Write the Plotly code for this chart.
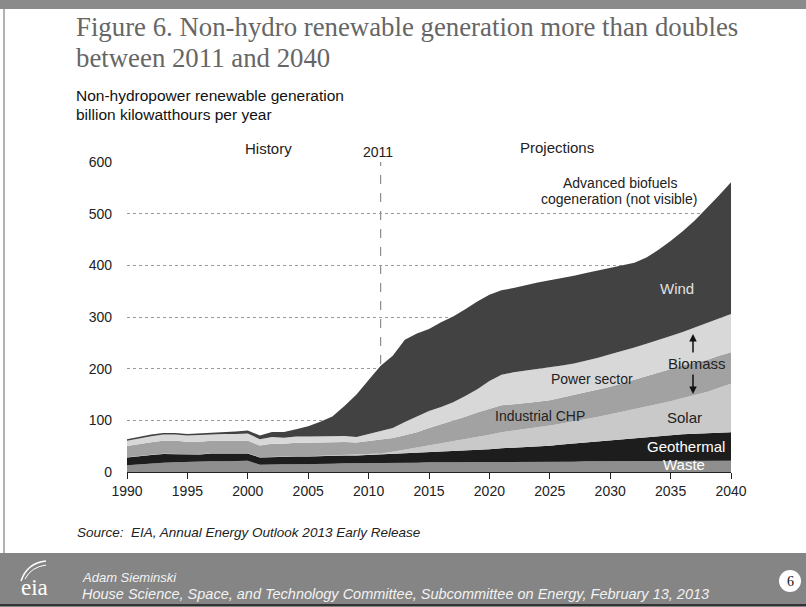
import plotly.graph_objects as go

# ---------------- data (billion kWh per year) ----------------
years = list(range(1990, 2041))

waste = [13, 15, 17, 18, 19, 20, 20, 21, 21, 21, 22, 14, 15, 15, 15, 15, 16, 16, 17, 17, 18, 18,
         18, 18, 18, 19, 19, 19, 19, 19, 19, 20, 20, 20, 20, 20, 20, 20, 21, 21, 21, 21, 21, 21,
         21, 21, 22, 22, 22, 22, 22]
geothermal = [15, 16, 16, 17, 16, 14, 14, 15, 15, 15, 14, 14, 14, 14, 15, 15, 15, 15, 15, 15, 15, 16,
              17, 18, 19, 20, 21, 22, 23, 24, 25, 26, 27, 28, 29, 31, 33, 35, 37, 39, 41, 43, 45, 47,
              48, 50, 51, 52, 53, 54, 55]
solar = [0.4, 0.5, 0.4, 0.5, 0.5, 0.5, 0.5, 0.5, 0.5, 0.5, 0.5, 0.5, 0.6, 0.5, 0.6, 0.6, 0.5, 0.6,
         0.9, 0.9, 1.2, 1.8,
         4, 7, 10, 13, 16, 19, 22, 25, 28, 31, 33, 35, 37, 39, 41, 43, 45, 47, 50, 53, 56, 59, 62,
         66, 70, 75, 80, 87, 94]
industrial_chp = [22, 23, 24, 25, 25, 24, 24, 24, 24, 24, 24, 23, 25, 25, 26, 26, 26, 26, 25, 24, 26, 27,
                  27, 28, 30, 33, 36, 40, 43, 47, 50, 52, 51, 50, 50, 49, 50, 51, 52, 52, 53, 55, 57,
                  59, 61, 63, 63, 63, 62, 62, 61]
power_sector = [10, 11, 12, 12, 12, 12, 13, 13, 13, 13, 14, 12, 13, 12, 12, 12, 12, 12, 12, 11, 13, 16,
                19, 26, 31, 33, 34, 35, 40, 45, 54, 59, 62, 63, 63, 63, 62, 61, 60, 62, 63, 62, 62,
                62, 63, 63, 65, 68, 71, 72, 74]
wind = [3, 3, 3, 3, 3, 3, 3, 3, 3, 5, 6, 7, 10, 11, 14, 20, 28, 38, 58, 82, 105, 127,
        140, 159, 160, 159, 164, 166, 168, 170, 167, 164, 163, 166, 168, 169, 169, 170, 170, 169,
        166, 165, 164, 167, 175, 184, 195, 207, 222, 238, 255]

x_ticks = [1990, 1995, 2000, 2005, 2010, 2015, 2020, 2025, 2030, 2035, 2040]
y_ticks = [0, 100, 200, 300, 400, 500, 600]

# ---------------- page geometry ----------------
W, H = 806, 607
L, R, T, B = 127, 75, 162, 135
PW = W - L - R
PH = H - T - B


def px(x):
    return (x - L) / PW


def py(y):
    return (H - B - y) / PH


SANS = "Liberation Sans, Arial, sans-serif"
SERIF = "Liberation Serif, Times New Roman, serif"

fig = go.Figure()

series = [
    ("Waste", waste, "#8e8e8e"),
    ("Geothermal", geothermal, "#1d1d1d"),
    ("Solar", solar, "#c9c9c9"),
    ("Industrial CHP", industrial_chp, "#a2a2a2"),
    ("Power sector", power_sector, "#d8d8d8"),
    ("Wind", wind, "#424242"),
]
for name, vals, col in series:
    fig.add_trace(go.Scatter(
        x=years, y=vals, name=name, stackgroup="one", mode="lines",
        line=dict(width=0, color=col), fillcolor=col,
        hovertemplate=name + " %{x}: %{y}<extra></extra>",
    ))

shapes = [
    dict(type="rect", xref="paper", yref="paper", x0=px(0), x1=px(W), y0=py(0), y1=py(9),
         fillcolor="#8a8a8a", line=dict(width=0), layer="below"),
    dict(type="rect", xref="paper", yref="paper", x0=px(0), x1=px(W), y0=py(553), y1=py(H),
         fillcolor="#858585", line=dict(width=0), layer="below"),
    dict(type="line", xref="paper", yref="paper", x0=px(0), x1=px(W), y0=py(605), y1=py(605),
         line=dict(color="#333333", width=2)),
    dict(type="line", xref="paper", yref="paper", x0=px(4), x1=px(4), y0=py(9), y1=py(553),
         line=dict(color="#666666", width=1)),
    dict(type="line", xref="x", yref="y", x0=2011, x1=2011, y0=0, y1=607,
         line=dict(color="#777777", width=1, dash="dash"), layer="below"),
    dict(type="path", xref="paper", yref="paper",
         path=f"M {px(21)} {py(581)} Q {px(27)} {py(563)} {px(46)} {py(561)}",
         line=dict(color="white", width=1.5)),
    dict(type="path", xref="paper", yref="paper",
         path=f"M {px(25)} {py(579)} Q {px(31)} {py(567)} {px(46)} {py(565)}",
         line=dict(color="white", width=1)),
    dict(type="circle", xref="paper", yref="paper", x0=px(779), x1=px(801), y0=py(570), y1=py(592),
         fillcolor="white", line=dict(width=0)),
]


def note(text, x, y, size=14, color="#222222", family=SANS, xanchor="center", yanchor="middle", italic=False):
    return dict(text=(f"<i>{text}</i>" if italic else text), xref="paper", yref="paper",
                x=px(x), y=py(y), xanchor=xanchor, yanchor=yanchor, showarrow=False,
                font=dict(size=size, color=color, family=family))


annotations = [
    note("Figure 6. Non-hydro renewable generation more than doubles", 74, 27, size=26.8,
         color="#666666", family=SERIF, xanchor="left"),
    note("between 2011 and 2040", 74, 58, size=26.8, color="#666666", family=SERIF, xanchor="left"),
    note("Non-hydropower renewable generation", 74, 95, size=15.5, color="#111111", xanchor="left"),
    note("billion kilowatthours per year", 74, 114, size=15.5, color="#111111", xanchor="left"),
    note("History", 268, 148, size=15),
    note("2011", 378, 152, size=14),
    note("Projections", 557, 147, size=15),
    note("Advanced biofuels", 620, 183, size=14),
    note("cogeneration (not visible)", 619, 199, size=14),
    note("Wind", 677, 288, size=15, color="#e0e0e0"),
    note("Biomass", 697, 363, size=15),
    note("Power sector", 592, 379, size=14),
    note("Industrial CHP", 540, 416, size=14),
    note("Solar", 684, 417, size=15),
    note("Geothermal", 686, 446, size=15, color="white"),
    note("Waste", 684, 464, size=15, color="white"),
    note("Source:  EIA, Annual Energy Outlook 2013 Early Release", 75, 532, size=13.5,
         color="#222222", xanchor="left", italic=True),
    note("Adam Sieminski", 80, 577, size=13, color="#f2f2f2", xanchor="left", italic=True),
    note("House Science, Space, and Technology Committee, Subcommittee on Energy, February 13, 2013",
         80, 594, size=14.5, color="#f2f2f2", xanchor="left", italic=True),
    note("eia", 34, 587, size=23, color="white", family=SERIF),
    note("6", 790, 581, size=14, color="#111111", family=SERIF),
    dict(x=px(693), y=py(334), ax=0, ay=20, xref="paper", yref="paper",
         axref="pixel", ayref="pixel", text="", showarrow=True, arrowhead=2, arrowsize=1,
         arrowwidth=1.5, arrowcolor="#111111"),
    dict(x=px(693), y=py(394), ax=0, ay=-21, xref="paper", yref="paper",
         axref="pixel", ayref="pixel", text="", showarrow=True, arrowhead=2, arrowsize=1,
         arrowwidth=1.5, arrowcolor="#111111"),
]

fig.update_layout(
    width=W, height=H,
    margin=dict(l=L, r=R, t=T, b=B, pad=0),
    paper_bgcolor="white", plot_bgcolor="white",
    showlegend=False,
    font=dict(family=SANS, size=14, color="#222222"),
    shapes=shapes, annotations=annotations,
    xaxis=dict(range=[1990, 2040], tickvals=x_ticks, ticktext=[str(v) for v in x_ticks],
               showline=True, linecolor="#222222", linewidth=1, ticks="outside", ticklen=6,
               tickcolor="#222222", showgrid=False, zeroline=False,
               tickfont=dict(size=14, color="#222222", family=SANS)),
    yaxis=dict(range=[0, 600], tickvals=y_ticks, showgrid=True, gridcolor="#9a9a9a",
               griddash="dot", gridwidth=1, zeroline=False, showline=False, ticks="",
               ticklabelstandoff=14, tickfont=dict(size=14, color="#222222", family=SANS)),
)

fig.write_html("out.html", config={"displayModeBar": False},
               post_script="document.body.style.margin='0px';document.body.style.overflow='hidden';")
